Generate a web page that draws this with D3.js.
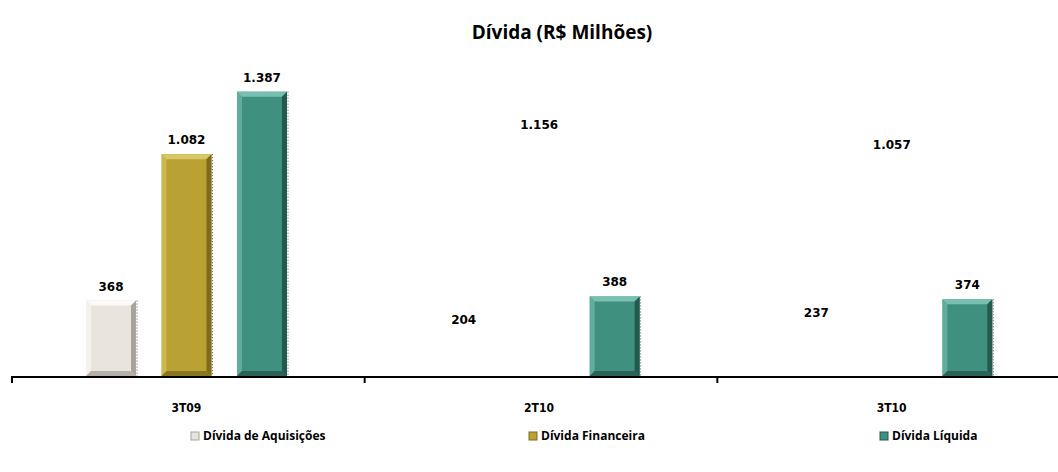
<!DOCTYPE html>
<html><head><meta charset="utf-8">
<script src="https://cdn.jsdelivr.net/npm/d3@7/dist/d3.min.js"></script>
<style>html,body{margin:0;padding:0;background:#fff;}svg{display:block;}</style>
</head><body>
<svg id="c" width="1058" height="472"></svg>
<script>
const categories = ["3T09", "2T10", "3T10"];
const seriesNames = ["Dívida de Aquisições", "Dívida Financeira", "Dívida Líquida"];
const aquisicoes = [368, 204, 237];
const financeira = [1082, 1156, 1057];
const liquida = [1387, 388, 374];
// whether each bar is drawn (the source shows only labels for some)
const barShown = [[true, true, true], [false, false, true], [false, false, true]];
const colors = ["#e9e5de", "#b9a233", "#40907f"];
const darks = ["#a8a49c", "#7d6c1c", "#24594e"];
const lights = ["#fbfaf7", "#d8c766", "#79bfb0"];

const values = [aquisicoes, financeira, liquida];
const fmt = v => v >= 1000 ? Math.floor(v/1000) + "." + String(v%1000).padStart(3,"0") : String(v);

const svg = d3.select("#c");
const x = d3.scaleBand().domain(categories).range([12, 1070]).padding(0);
const xi = d3.scaleBand().domain(seriesNames).range([74, 275]).paddingInner(0.338).paddingOuter(0);
const y = d3.scaleLinear().domain([0, 1400]).range([376, 89]);

svg.append("text").attr("x", 562).attr("y", 39).attr("text-anchor", "middle")
  .style("font-family", "'Open Sans', 'Noto Sans', sans-serif").style("font-weight", "bold").style("font-size", "19px")
  .text("Dívida (R$ Milhões)");

const data = [];
categories.forEach((c, ci) => seriesNames.forEach((s, si) => data.push({c, ci, s, si, v: values[si][ci]})));

const g = svg.append("g");
data.forEach(d => {
  const x0 = x(d.c) + xi(d.s), w = xi.bandwidth(), y0 = y(d.v), y1 = y(0), h = y1 - y0;
  if (barShown[d.ci][d.si]) {
    const b = 5;
    const bg = g.append("g");
    bg.append("rect").attr("x", x0).attr("y", y0).attr("width", w).attr("height", h).attr("fill", colors[d.si]);
    bg.append("polygon").attr("points", [[x0,y0],[x0+w,y0],[x0+w-b,y0+b],[x0+b,y0+b]].join(" ")).attr("fill", lights[d.si]);
    bg.append("polygon").attr("points", [[x0,y0],[x0+b,y0+b],[x0+b,y1-b],[x0,y1]].join(" ")).attr("fill", lights[d.si]).attr("opacity", 0.6);
    bg.append("polygon").attr("points", [[x0+w,y0],[x0+w,y1],[x0+w-b,y1-b],[x0+w-b,y0+b]].join(" ")).attr("fill", darks[d.si]);
    bg.append("polygon").attr("points", [[x0,y1],[x0+w,y1],[x0+w-b,y1-b],[x0+b,y1-b]].join(" ")).attr("fill", darks[d.si]).attr("opacity", 0.8);
    bg.append("line").attr("x1", x0+w+1).attr("x2", x0+w+1).attr("y1", y0).attr("y2", y1)
      .attr("stroke", "#555").attr("stroke-width", 1).attr("stroke-dasharray", "1,2");
  }
  g.append("text").attr("x", x0 + w/2).attr("y", y0 - 10).attr("text-anchor", "middle")
    .style("font-family", "'DejaVu Sans', Verdana, sans-serif").style("font-weight", "bold").style("font-size", "12px")
    .text(fmt(d.v));
});

// axis
svg.append("line").attr("x1", 12).attr("x2", 1058).attr("y1", y(0)+1).attr("y2", y(0)+1).attr("stroke", "#000").attr("stroke-width", 2);
svg.selectAll(".tk").data(categories).enter().append("line")
  .attr("x1", d => x(d)).attr("x2", d => x(d)).attr("y1", y(0)).attr("y2", y(0)+7).attr("stroke", "#000").attr("stroke-width", 2);
svg.selectAll(".cl").data(categories).enter().append("text")
  .attr("x", d => x(d) + x.bandwidth()/2 - 2).attr("y", 412).attr("text-anchor", "middle")
  .style("font-family", "'DejaVu Sans Condensed', 'DejaVu Sans', sans-serif").style("font-weight", "bold").style("font-size", "12px")
  .text(d => d);

// legend
const legX = [191, 529, 880];
seriesNames.forEach((s, i) => {
  const lg = svg.append("g").attr("transform", `translate(${legX[i]},440)`);
  lg.append("rect").attr("x", 0).attr("y", -8).attr("width", 8).attr("height", 8).attr("fill", colors[i]).attr("stroke", darks[i]).attr("stroke-width", 1);
  lg.append("text").attr("x", 12).attr("y", 0)
    .style("font-family", "'Open Sans', 'Noto Sans', sans-serif").style("font-weight", "bold").style("font-size", "12px")
    .text(s);
});
</script>
</body></html>
